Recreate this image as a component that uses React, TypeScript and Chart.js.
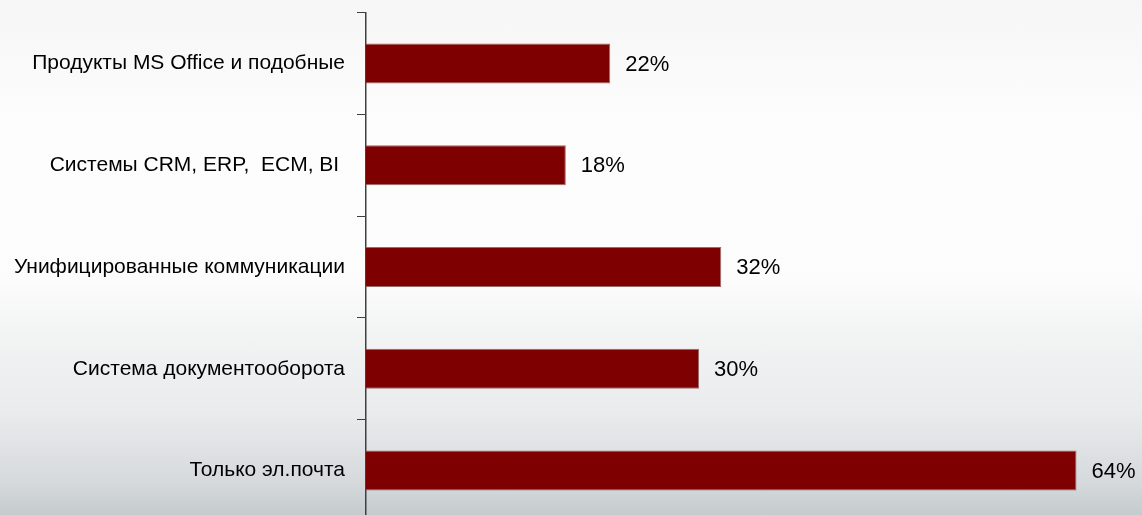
import React, { useEffect, useRef } from "react";
import { Chart, registerables } from "chart.js";

Chart.register(...registerables);

const categories = [
  "Продукты MS Office и подобные",
  "Системы CRM, ERP,  ECM, BI ",
  "Унифицированные коммуникации",
  "Система документооборота",
  "Только эл.почта",
];
const values = [22, 18, 32, 30, 64];

const FONT = "'Liberation Sans', Arial, sans-serif";

const valueLabels = {
  id: "valueLabels",
  afterDatasetsDraw(chart: any) {
    const ctx = chart.ctx;
    const meta = chart.getDatasetMeta(0);
    ctx.save();
    ctx.font = `22px ${FONT}`;
    ctx.fillStyle = "#000";
    ctx.textAlign = "left";
    ctx.textBaseline = "middle";
    meta.data.forEach((bar: any, i: number) => {
      ctx.fillText(values[i] + "%", bar.x + 15, bar.y + 1);
    });
    ctx.restore();
  },
};

export default function App() {
  const ref = useRef<HTMLCanvasElement>(null);
  useEffect(() => {
    if (!ref.current) return;
    const chart = new Chart(ref.current, {
      type: "bar",
      data: {
        labels: categories,
        datasets: [
          {
            data: values,
            backgroundColor: "#7f0000",
            borderColor: "#9a6a6a",
            borderWidth: 1,
            barPercentage: 0.8,
            categoryPercentage: 0.49,
          },
        ],
      },
      options: {
        indexAxis: "y",
        animation: false,
        responsive: false,
        maintainAspectRatio: false,
        layout: { padding: { top: 0, bottom: 8, right: 10, left: 0 } },
        plugins: { legend: { display: false }, tooltip: { enabled: false } },
        scales: {
          x: { display: false, min: 0, max: 69 },
          y: {
            afterFit(scale: any) {
              scale.width = 366;
            },
            grid: {
              offset: true,
              drawOnChartArea: false,
              drawTicks: true,
              tickLength: 9,
              color: "#404040",
              lineWidth: 1,
            },
            border: { display: true, color: "#404040", width: 1.5 },
            ticks: {
              color: "#000",
              padding: 12,
              font: { family: FONT, size: 21 },
            },
          },
        },
      },
      plugins: [valueLabels],
    });
    return () => chart.destroy();
  }, []);
  return (
    <div
      style={{
        position: "fixed",
        left: 0,
        top: 0,
        width: 1142,
        height: 515,
        overflow: "hidden",
        background:
          "linear-gradient(to bottom, #f6f6f6 0%, #fdfdfd 25%, #fcfcfc 55%, #f2f3f3 65%, #eaebed 80%, #d5d9db 94%, #c5cacd 100%)",
      }}
    >
      <canvas
        ref={ref}
        width={1142}
        height={558}
        style={{ display: "block", marginTop: -12 }}
      />
    </div>
  );
}
